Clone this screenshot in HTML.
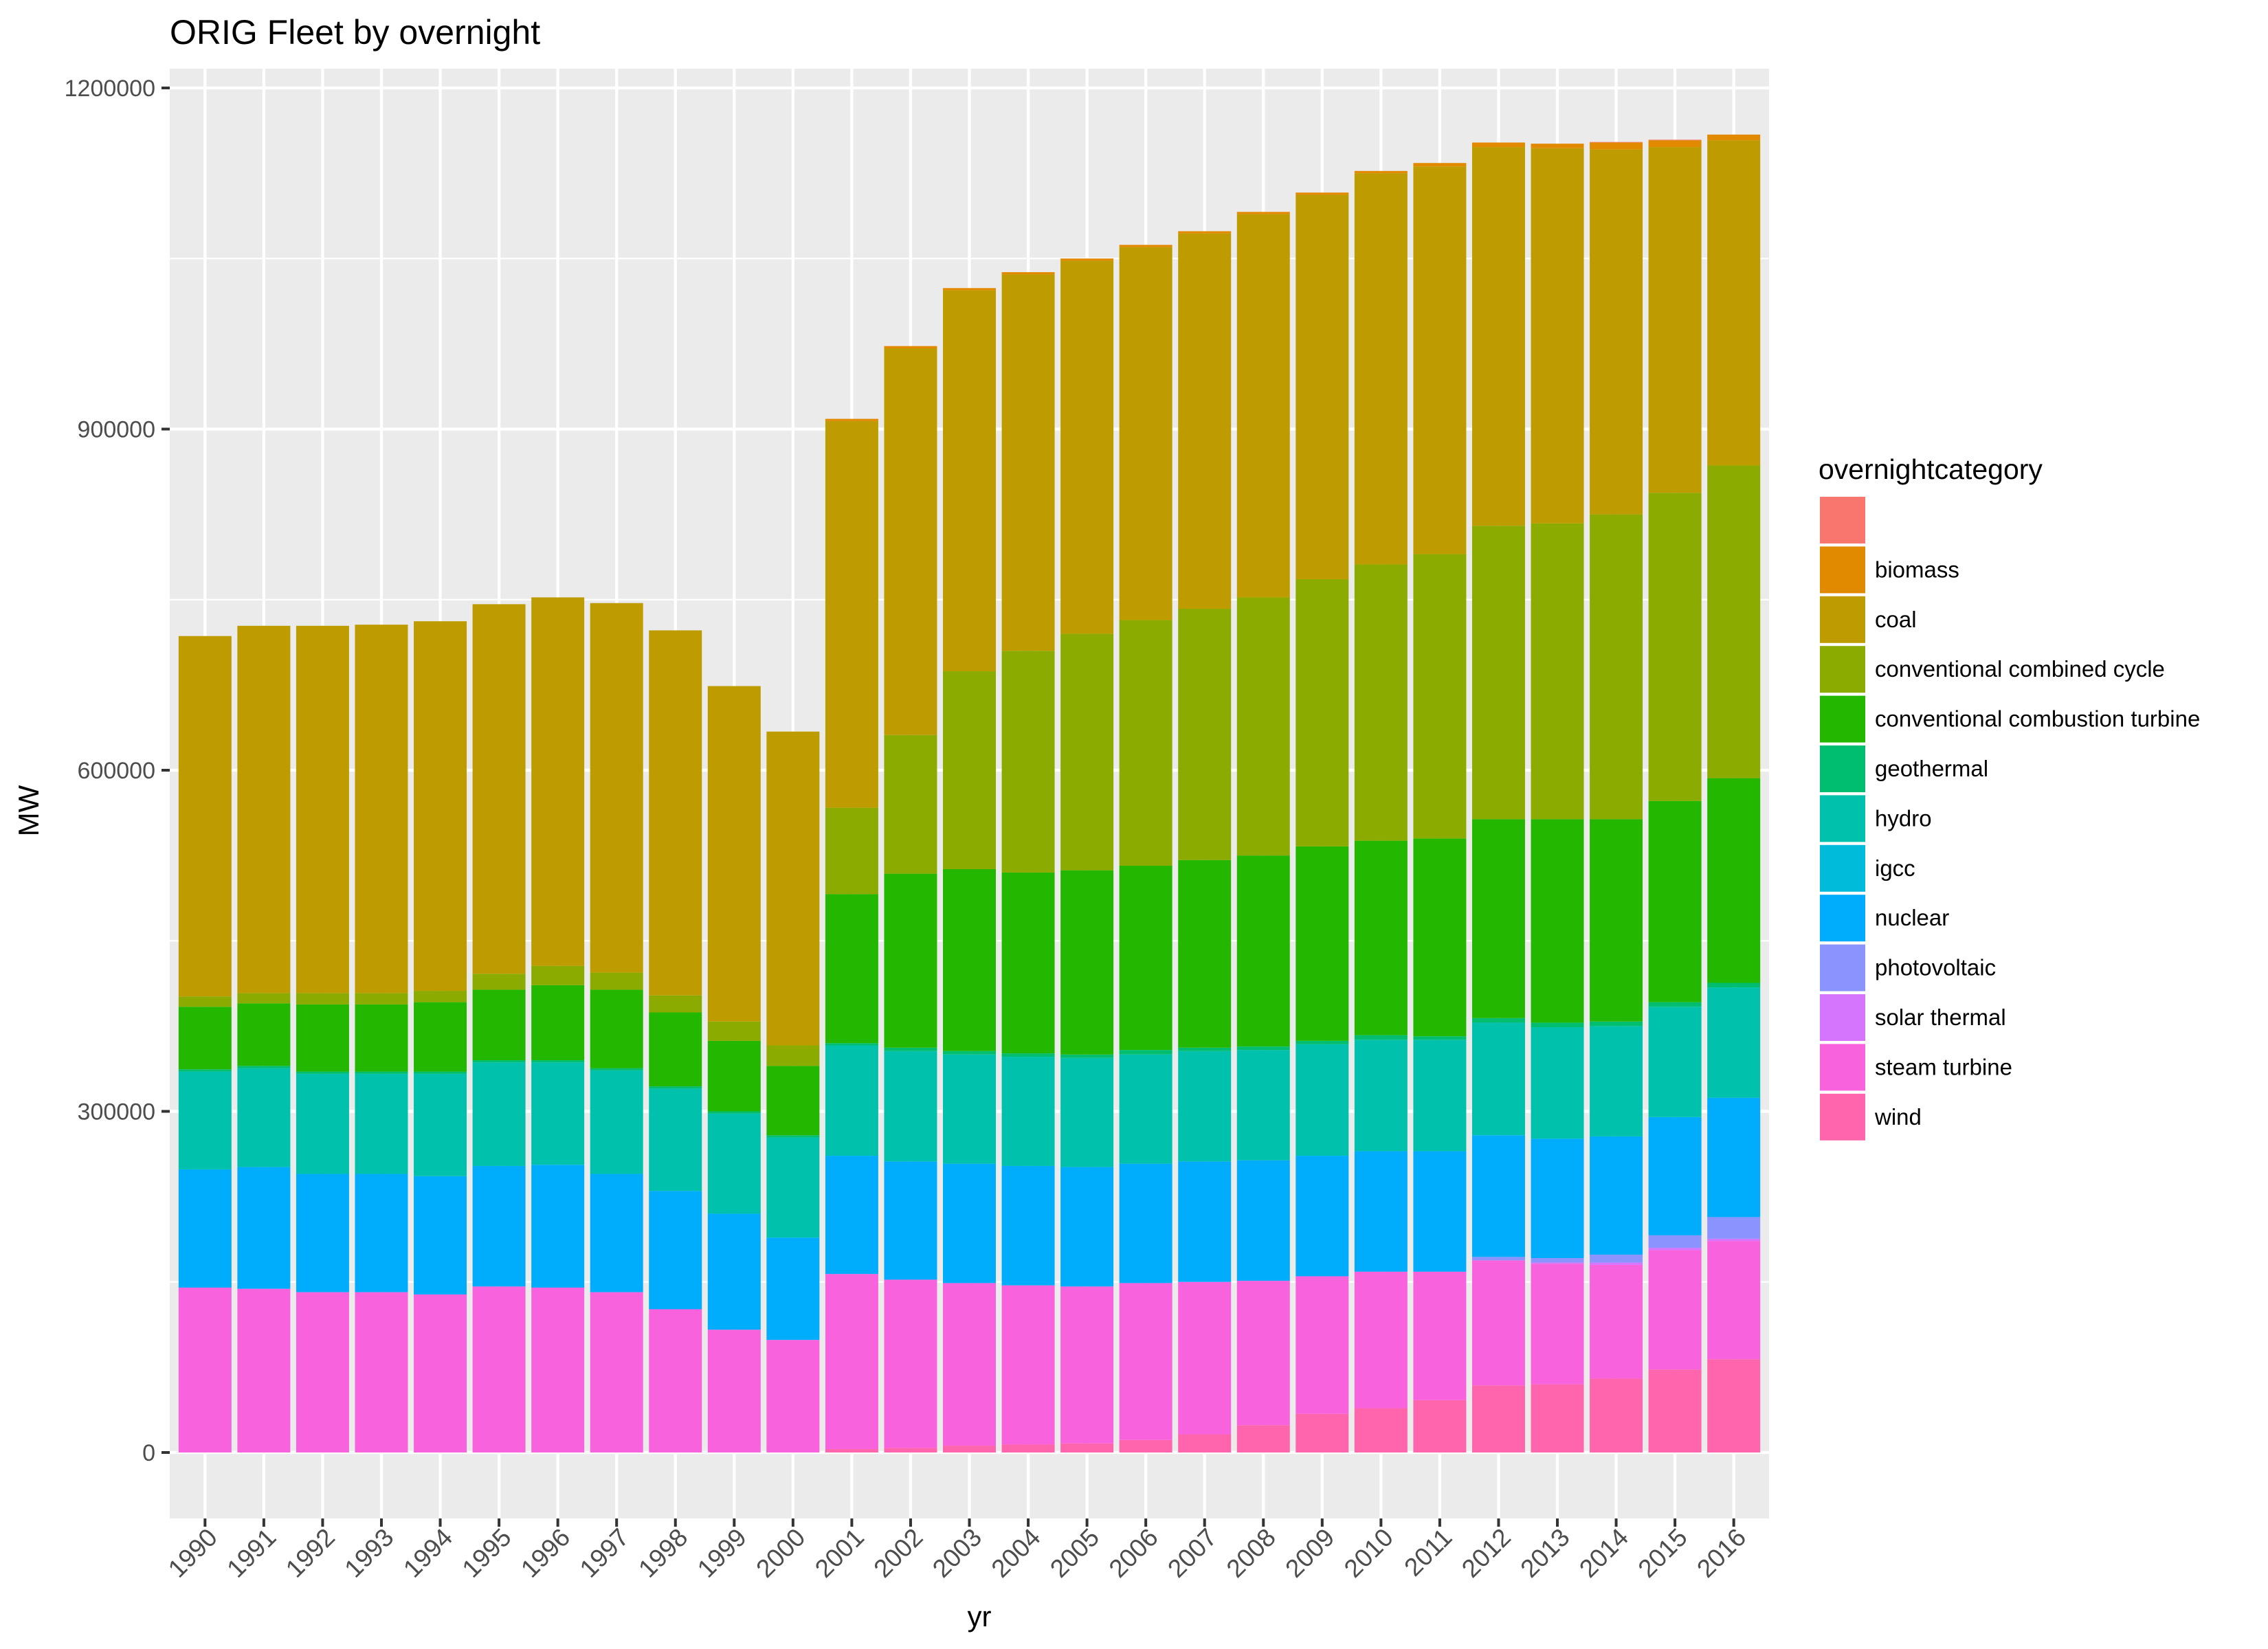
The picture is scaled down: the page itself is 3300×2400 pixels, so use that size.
<!DOCTYPE html>
<html><head><meta charset="utf-8"><style>
html,body{margin:0;padding:0;background:#fff;}
svg{display:block;font-family:"Liberation Sans",Arial,sans-serif;}
</style></head><body>
<svg id="chart" width="3300" height="2400" viewBox="0 0 3300 2400" xmlns="http://www.w3.org/2000/svg">
<rect x="0" y="0" width="3300" height="2400" fill="#fff"/>
<text x="247" y="64" font-size="50" fill="#000">ORIG Fleet by overnight</text>
<rect x="247" y="100" width="2327" height="2110" fill="#EBEBEB"/>
<g id="grid"></g>
<g id="bars"></g>
<g id="axes"></g>
<text transform="translate(56,1180) rotate(-90)" text-anchor="middle" font-size="42" fill="#000">MW</text>
<text x="1425" y="2367" text-anchor="middle" font-size="42" fill="#000">yr</text>
<g id="legend">
<text x="2646" y="697" font-size="41" fill="#000">overnightcategory</text>
</g>
</svg>
<script>
const years = ["1990","1991","1992","1993","1994","1995","1996","1997","1998","1999","2000","2001","2002","2003","2004","2005","2006","2007","2008","2009","2010","2011","2012","2013","2014","2015","2016"];
const categories = ["","biomass","coal","conventional combined cycle","conventional combustion turbine","geothermal","hydro","igcc","nuclear","photovoltaic","solar thermal","steam turbine","wind"];
const colors = ["#F8766D","#E18A00","#BE9C00","#8CAB00","#24B700","#00BE70","#00C1AB","#00BBDA","#00ACFC","#8B93FF","#D575FE","#F962DD","#FF65AC"];
// values in thousand MW
const windVals = [0,0,0,0,0,0,0,0,0,0,0,3,4,6,7,8,11,16,24,34,39,46,59,60,65,73,82];
const steamVals = [145,144,141,141,139,146,145,141,126,108,99,154,148,143,140,138,138,134,127,121,120,113,110,106,100,105,104];
const solarVals = [0,0,0,0,0,0,0,0,0,0,0,0,0,0,0,0,0,0,0,0,0,0,0,1,2,2,2];
const pvVals = [0,0,0,0,0,0,0,0,0,0,0,0,0,0,0,0,0,0,0,0,0,0,3,4,7,11,19];
const nuclearVals = [104,107,104,104,104,106,108,104,104,102,90,104,104,105,105,105,105,106,106,106,106,106,107,105,104,104,105];
const igccVals = [0,0,0,0,0,0,0,0,0,0,0,0,0,0,0,0,0,0,0,0,0,0,0,0,0,0,0];
const hydroVals = [86,87,88,88,90,91,90,91,90,88,88,97,97,96,96,96,96,97,97,98,98,98,99,98,97,97,97];
const geoVals = [2,2,2,2,2,2,2,2,2,2,2,2,3,3,3,3,4,3,3,3,4,3,4,4,4,4,4];
const ctVals = [55,55,59,59,61,62,66,69,65,62,61,131,153,160,159,162,162,165,168,171,171,174,175,179,178,177,180];
const ccVals = [9,9,10,10,10,14,17,15,15,17,18,76,122,174,195,208,216,221,227,235,243,250,258,260,268,271,275];
const coalVals = [317,323,323,324,325,325,324,325,321,295,276,340,340,335,331,328,328,330,337,338,344,341,333,330,321,304,286];
const biomassVals = [0,0,0,0,0,0,0,0,0,0,0,2,2,2,2,2,2,2,2,2,2,3,4,4,6,6,5];
const blankVals = [0,0,0,0,0,0,0,0,0,0,0,0,0,0,0,0,0,0,0,0,0,0,0,0,0.5,0.5,0];
const yTicks = [0,300000,600000,900000,1200000];
const yTickLabels = ["0","300000","600000","900000","1200000"];

const NS = "http://www.w3.org/2000/svg";
const panel = {x:247, y:100, w:2327, h:2110};
const y0px = 2114, yPerUnit = 496.5/300000;
function yScale(v){ return y0px - v*yPerUnit; }
const band = panel.w/(years.length + 0.2);
function xScale(i){ return panel.x + band*0.6 + i*band; }
function mk(tag, attrs, parent){ const e=document.createElementNS(NS,tag); for(const k in attrs) e.setAttribute(k,attrs[k]); parent.appendChild(e); return e; }

const grid = document.getElementById('grid');
for(let i=0;i<yTicks.length-1;i++){
  const yv=(yTicks[i]+yTicks[i+1])/2;
  const l=mk('line',{x1:panel.x,x2:panel.x+panel.w,y1:yScale(yv),y2:yScale(yv),stroke:'#fff','stroke-width':2.2},grid);
  
  
}
yTicks.forEach((t,i)=>{
  const l=mk('line',{x1:panel.x,x2:panel.x+panel.w,y1:yScale(t),y2:yScale(t),stroke:'#fff','stroke-width':4.3},grid);
  
  
});
years.forEach((yr,i)=>{
  const l=mk('line',{x1:xScale(i),x2:xScale(i),y1:panel.y,y2:panel.y+panel.h,stroke:'#fff','stroke-width':4.3},grid);
  
  
});

// stacking order bottom -> top
const stackSeries = [
  ["wind",windVals,12],["steam turbine",steamVals,11],["solar thermal",solarVals,10],["photovoltaic",pvVals,9],
  ["nuclear",nuclearVals,8],["igcc",igccVals,7],["hydro",hydroVals,6],["geothermal",geoVals,5],
  ["conventional combustion turbine",ctVals,4],["conventional combined cycle",ccVals,3],["coal",coalVals,2],
  ["biomass",biomassVals,1],["blank",blankVals,0]
];
const bars = document.getElementById('bars');
const bw = band*0.9;
years.forEach((yr,i)=>{
  let cum=0;
  stackSeries.forEach(([name,vals,ci])=>{
    const v=vals[i]*1000;
    if(v>0){
      const top=yScale(cum+v), bot=yScale(cum);
      const r=mk('rect',{x:xScale(i)-bw/2,y:top,width:bw,height:bot-top,fill:colors[ci]},bars);
      
      
    }
    cum+=v;
  });
});

const axes=document.getElementById('axes');
yTicks.forEach((t,i)=>{
  const tk=mk('line',{x1:235,x2:247,y1:yScale(t),y2:yScale(t),stroke:'#333','stroke-width':4},axes);
  
  
  const tx=mk('text',{x:226,y:yScale(t)+12,'text-anchor':'end','font-size':34,fill:'#4D4D4D'},axes);
  tx.textContent=yTickLabels[i];
  
  
});
years.forEach((yr,i)=>{
  const x=xScale(i);
  const tk=mk('line',{x1:x,x2:x,y1:2210,y2:2222,stroke:'#333','stroke-width':4},axes);
  
  
  const tx=mk('text',{'text-anchor':'end','font-size':37,fill:'#4D4D4D',transform:`translate(${x+20},${2240}) rotate(-45)`},axes);
  tx.textContent=yr;
  
  
});

const legend=document.getElementById('legend');
categories.forEach((c,i)=>{
  const y=723+i*72.4;
  const r=mk('rect',{x:2648,y:y,width:66,height:68,fill:colors[i]},legend);
  
  
  const t=mk('text',{x:2728,y:y+45,'font-size':33,fill:'#000'},legend);
  t.textContent=c;
  
  
});
</script>
</body></html>
